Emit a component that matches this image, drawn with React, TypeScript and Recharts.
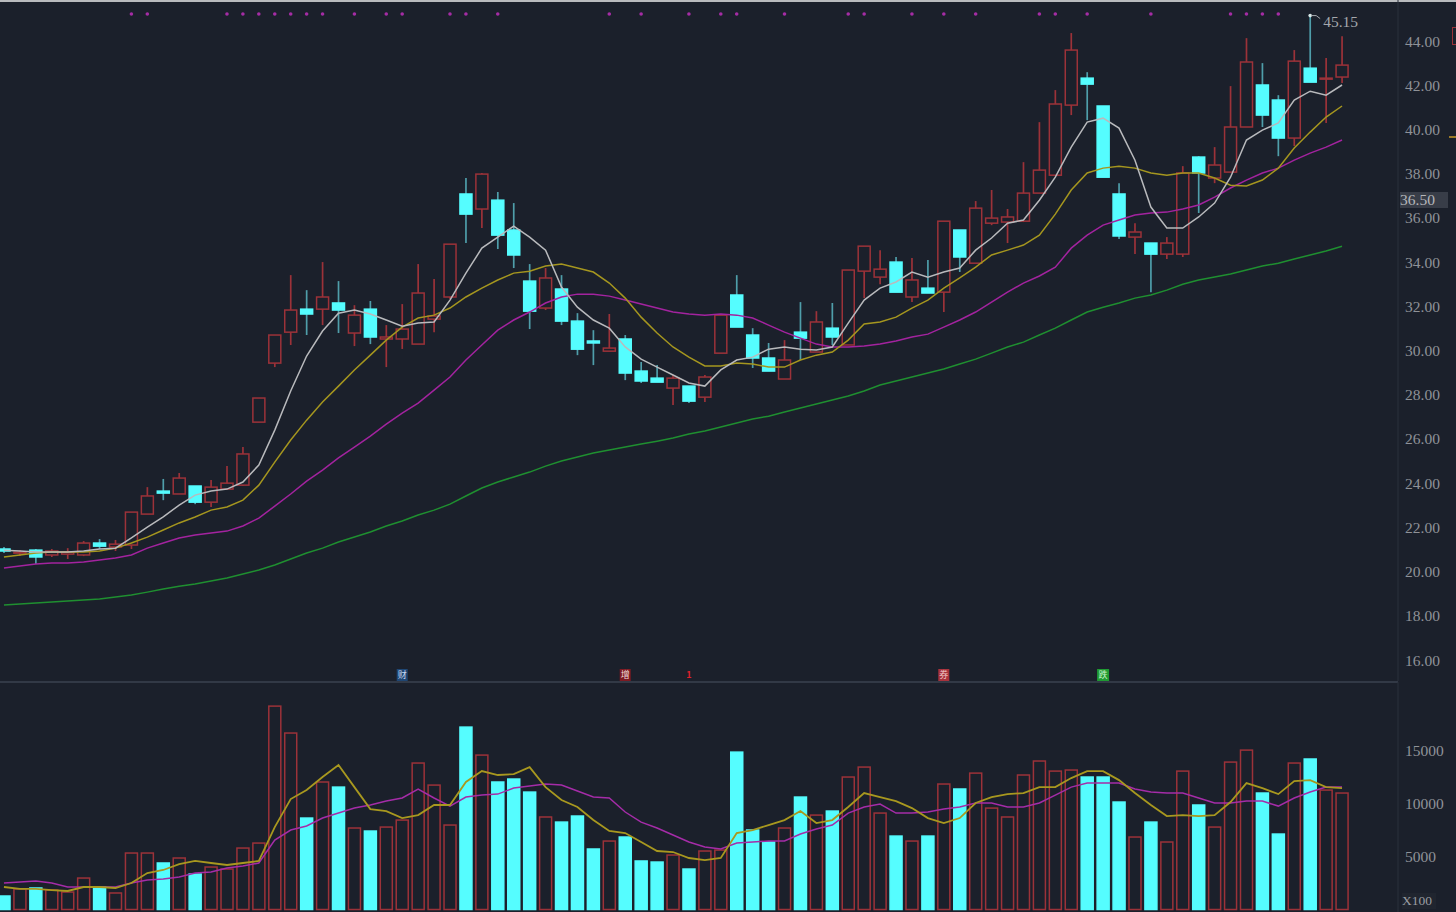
import React from "react";
import { ComposedChart, Bar, Line, XAxis, YAxis, ReferenceDot } from "recharts";

const highs = [21.11,20.97,21.02,21.02,21.06,21.38,21.47,21.43,22.69,23.82,24.19,24.46,23.87,24.14,24.77,25.63,27.85,30.70,33.41,32.73,34.00,33.14,32.05,32.24,31.15,32.10,33.91,33.23,34.81,37.80,38.03,37.17,36.67,33.91,33.73,33.41,31.69,30.92,31.65,30.70,29.48,29.34,28.89,28.39,28.89,31.60,33.41,31.01,30.34,30.47,32.19,31.78,32.15,33.64,34.72,34.54,34.23,34.18,34.09,35.85,35.45,36.76,37.26,36.40,38.52,40.33,41.78,44.36,42.59,41.06,37.57,35.76,34.86,35.13,38.34,38.79,39.20,41.96,44.13,43.00,41.55,43.59,45.15,43.23,44.22];
const lows = [20.84,20.70,20.34,20.66,20.57,20.70,21.02,20.93,21.02,22.60,23.23,23.51,23.05,22.92,23.73,23.87,26.76,29.25,30.25,30.70,31.15,30.79,30.20,30.29,29.25,30.07,30.29,30.83,32.33,34.86,35.54,34.59,33.73,30.97,31.83,31.15,29.79,29.34,29.97,28.66,28.53,28.57,27.53,27.62,27.67,29.88,31.06,29.21,29.07,28.71,29.57,29.93,30.25,30.25,32.37,33.00,32.64,32.19,32.60,31.74,33.55,33.95,35.67,34.86,35.81,37.12,37.93,40.65,40.42,37.84,35.04,34.36,32.64,34.14,34.23,36.22,37.57,38.07,40.11,40.11,38.79,39.25,42.14,40.29,42.10];
const opens = [21.02,20.84,20.97,20.75,20.79,20.75,21.29,21.11,21.20,22.60,23.64,23.51,23.87,23.14,23.73,23.91,26.76,29.43,30.83,31.87,31.87,32.15,30.79,31.87,30.52,30.52,30.29,31.42,32.42,37.08,36.40,36.80,35.45,33.14,31.92,32.78,31.33,30.43,29.97,30.52,29.07,28.75,28.30,28.39,27.89,29.88,32.51,30.70,29.66,28.71,30.83,29.93,31.01,30.25,33.59,33.32,34.00,32.42,32.82,32.64,35.45,33.95,35.76,35.81,35.85,37.12,37.93,41.10,42.32,41.06,37.08,35.13,34.86,34.36,34.36,38.75,37.80,38.07,40.11,42.01,41.33,39.61,42.77,42.28,42.37];
const closes = [20.93,20.88,20.66,20.93,20.88,21.29,21.15,21.24,22.69,23.42,23.55,24.23,23.14,23.82,24.00,25.32,27.85,30.70,31.83,31.65,32.42,31.83,31.60,30.61,30.61,30.97,32.60,31.56,34.81,36.17,37.98,35.22,34.32,31.78,33.28,31.33,30.06,30.34,30.11,28.98,28.62,28.57,28.75,27.71,28.80,31.60,31.06,29.66,29.07,29.57,30.56,31.29,30.61,33.64,34.72,33.68,32.64,33.19,32.60,35.85,34.23,36.44,35.99,36.04,37.12,38.16,41.15,43.59,42.05,37.84,35.18,35.36,34.36,34.86,38.03,38.03,38.39,40.11,43.05,40.65,39.61,43.09,42.14,42.32,42.91];

const ma5 = [20.97,20.93,20.88,20.88,20.88,20.93,21.02,21.06,21.52,22.01,22.47,23.01,23.46,23.64,23.73,24.05,24.82,26.40,28.17,29.75,30.88,31.69,31.83,31.65,31.38,31.10,31.24,31.29,32.28,33.50,34.63,35.13,35.63,35.13,34.54,32.87,31.96,31.38,31.01,30.16,29.61,29.25,28.89,28.53,28.39,29.12,29.57,29.70,30.06,30.16,30.06,30.02,30.16,31.24,32.28,32.82,33.10,33.55,33.32,33.55,33.73,34.54,35.09,35.76,35.90,36.80,37.84,39.20,40.33,40.51,40.06,38.61,36.49,35.54,35.54,36.04,36.67,37.84,39.52,39.97,40.29,41.33,41.73,41.55,42.01];
const ma10 = [20.66,20.75,20.84,20.88,20.88,20.88,20.93,21.06,21.29,21.56,21.88,22.20,22.47,22.78,22.92,23.23,23.91,24.95,25.95,26.85,27.67,28.39,29.12,29.79,30.47,31.06,31.47,31.60,31.92,32.42,32.82,33.19,33.50,33.59,33.82,33.91,33.73,33.55,33.05,32.37,31.51,30.79,30.16,29.70,29.30,29.30,29.43,29.39,29.25,29.25,29.57,29.79,29.93,30.47,31.20,31.29,31.51,31.92,32.28,32.82,33.28,33.77,34.32,34.54,34.77,35.22,36.17,37.26,38.03,38.25,38.34,38.25,38.03,37.93,38.03,38.03,37.80,37.48,37.44,37.71,38.25,39.16,39.88,40.56,41.06];
const ma20 = [20.16,20.25,20.34,20.39,20.39,20.43,20.52,20.61,20.75,21.06,21.29,21.52,21.65,21.74,21.83,22.06,22.42,22.96,23.51,24.09,24.59,25.14,25.63,26.13,26.67,27.17,27.62,28.21,28.80,29.57,30.25,30.92,31.38,31.74,32.15,32.42,32.55,32.55,32.46,32.28,32.10,31.92,31.74,31.65,31.60,31.65,31.60,31.47,31.15,30.83,30.56,30.29,30.16,30.16,30.20,30.29,30.43,30.61,30.74,31.06,31.38,31.74,32.19,32.64,33.05,33.37,33.77,34.63,35.22,35.67,35.90,36.13,36.22,36.26,36.40,36.58,36.94,37.35,37.71,38.03,38.25,38.61,38.93,39.20,39.52];
const ma60 = [18.49,18.53,18.58,18.62,18.67,18.71,18.76,18.85,18.94,19.07,19.21,19.34,19.44,19.57,19.71,19.89,20.07,20.30,20.57,20.84,21.06,21.34,21.56,21.79,22.06,22.29,22.56,22.78,23.05,23.42,23.78,24.05,24.28,24.50,24.77,25.00,25.18,25.36,25.50,25.63,25.77,25.90,26.04,26.22,26.36,26.54,26.72,26.90,27.03,27.22,27.40,27.58,27.76,27.94,28.17,28.44,28.62,28.80,28.98,29.16,29.39,29.61,29.88,30.16,30.38,30.70,31.01,31.38,31.74,31.96,32.15,32.37,32.51,32.73,33.00,33.19,33.32,33.46,33.64,33.82,33.95,34.14,34.32,34.50,34.72];

const volumes = [1226,1886,1980,1790,1600,2920,2075,1510,5280,5280,4340,4810,3300,3960,3770,5750,6220,19140,16600,8580,11980,11500,7640,7355,7730,8390,13770,11690,7920,17160,14520,11980,12260,11030,8680,8200,8770,5660,6410,6790,4530,4430,5090,3770,5470,5560,14800,7450,6320,7640,10560,8860,9240,12450,13390,9050,6880,6410,6880,11790,11320,12820,9520,8680,12640,13960,13010,13110,12450,12450,10090,6790,8200,6320,13010,9810,7730,13860,14990,10940,7070,13770,14150,11220,10940];
const volMa5 = [2075,1890,1890,1790,1700,2075,2075,1980,2450,3395,3680,4240,4530,4340,4150,4340,4530,7730,10370,11220,12450,13580,11500,9430,9240,8580,8860,9810,9810,11980,13010,12640,12730,13390,11500,10280,9620,8390,7360,7170,6320,5470,5375,4810,4620,4810,7170,7450,7920,8390,9240,8110,8390,9620,10940,10560,10180,9520,8580,8110,8580,10000,10560,10840,10940,11500,11500,12350,13010,13010,12160,10940,9810,8770,8860,8770,8860,10090,11880,11410,10840,12070,12160,11500,11410];
const volMa10 = [2450,2545,2640,2450,2075,2075,2075,2075,2450,2735,2830,3020,3395,3490,3865,4055,4340,6510,7450,7830,8580,9050,9520,9810,10180,10470,11320,10470,9710,10560,10750,10840,11410,11600,11790,11690,11130,10560,10470,9150,8200,7640,6980,6320,5850,5660,6220,6320,6410,6410,7070,7540,7920,9050,9620,9900,9050,9050,9150,9430,9620,10000,10000,9620,9620,10000,10750,11500,11880,11880,11880,11320,11030,10940,10940,10470,10000,10000,10180,10180,9710,10470,11030,11500,11500];

const signalDays = [8,9,14,15,16,17,18,19,20,22,24,25,28,29,31,38,40,43,45,46,49,53,54,57,59,61,65,66,68,72,77,78,79,80];
const signalLevel = 45.22;
const events = [
  { day: 25, text: "财", bg: "#1f4673", fg: "#c8d8ee", w: 11 },
  { day: 39, text: "增", bg: "#7d1a22", fg: "#f0d8d8", w: 11 },
  { day: 43, text: "1", bg: "#1b202b", fg: "#e0202c", w: 5 },
  { day: 59, text: "券", bg: "#a8323c", fg: "#f2c8c8", w: 11 },
  { day: 69, text: "跌", bg: "#1f9a32", fg: "#c8f2c8", w: 12 },
];
const priceTicks = [16,18,20,22,24,26,28,30,32,34,36,38,40,42,44];
const volumeTicks = [5000,10000,15000];

const table = opens.map((open, i) => ({
  i, open, close: closes[i], high: highs[i], low: lows[i],
  ma5: ma5[i], ma10: ma10[i], ma20: ma20[i], ma60: ma60[i],
  vol: volumes[i], volMa5: volMa5[i], volMa10: volMa10[i],
  signal: signalDays.includes(i) ? signalLevel : null,
}));

const BG = "#1b202b";
const RED = "#9c3239";
const CYAN = "#55fdff";
const WICK = "#4f9eaa";
const AXIS = "#2b313d";
const LABEL = "#8f9298";
const FONT = "'Liberation Serif', serif";

function Candle(props: any) {
  const { x, y, width, height, payload } = props;
  const cx = x + width / 2;
  const span = payload.high - payload.low || 1;
  const at = (v: number) => y + ((payload.high - v) / span) * height;
  const top = at(Math.max(payload.open, payload.close));
  const bot = at(Math.min(payload.open, payload.close));
  const down = payload.close < payload.open;
  return (
    <g>
      <line x1={cx} x2={cx} y1={y} y2={top} stroke={down ? WICK : RED} strokeWidth={1.7} />
      <line x1={cx} x2={cx} y1={bot} y2={y + height} stroke={down ? WICK : RED} strokeWidth={1.7} />
      <rect x={x} y={top} width={width} height={Math.max(bot - top, 1)}
        fill={down ? CYAN : "none"} stroke={down ? CYAN : RED} strokeWidth={1.5} />
    </g>
  );
}

function VolumeBar(props: any) {
  const { x, y, width, height, payload } = props;
  const down = payload.close < payload.open;
  return <rect x={x} y={y} width={width} height={height + 0.5}
    fill={down ? CYAN : "none"} stroke={down ? CYAN : RED} strokeWidth={1.5} />;
}

function SignalDot(props: any) {
  const { cx, cy, payload } = props;
  if (payload.signal == null) return <g key={props.key} />;
  return <circle key={props.key} cx={cx} cy={cy} r={1.8} fill="#a52ca5" />;
}

function EventTag(ev: typeof events[number]) {
  return (props: any) => (
    <g>
      <rect x={props.cx - ev.w / 2} y={669} width={ev.w} height={12} fill={ev.bg} />
      <text x={props.cx} y={678} textAnchor="middle" fontSize={9} fontWeight={ev.w === 5 ? 700 : 400} fill={ev.fg}
        fontFamily="'Noto Sans CJK SC'">{ev.text}</text>
    </g>
  );
}

function PeakNote(props: any) {
  const { cx, cy } = props;
  return (
    <g>
      <circle cx={cx} cy={cy} r={1.8} fill="#d8e8e8" />
      <polyline points={`${cx + 1},${cy} ${cx + 6},${cy} ${cx + 10},${cy + 3}`} fill="none" stroke="#a8abb0" strokeWidth={1} />
      <text x={cx + 13} y={cy + 11} fontSize={15.5} fill="#a5a8ad" fontFamily={FONT}>45.15</text>
    </g>
  );
}

export default function App() {
  return (
    <div style={{ position: "absolute", left: 0, top: 0, width: 1456, height: 912, background: BG, overflow: "hidden" }}>
      <div style={{ position: "absolute", left: 0, top: 0, width: 1456, height: 1.5, background: "#b9bbbe" }} />
      <div style={{ position: "absolute", left: 0, top: 0 }}>
        <ComposedChart width={1456} height={681} data={table} barSize={12} margin={{ top: 0, right: 0, bottom: 0, left: -4 }}>
          <XAxis dataKey="i" hide padding={{ left: 0, right: 48 }} />
          <YAxis orientation="right" width={58} domain={[15.05, 45.855]} ticks={priceTicks} allowDataOverflow
            tickFormatter={(v: number) => v.toFixed(2)} tick={{ fill: LABEL, fontSize: 15.5, fontFamily: FONT }}
            tickLine={false} tickMargin={1} axisLine={{ stroke: AXIS }} />
          <Bar dataKey={(d: any) => [d.low, d.high]} shape={<Candle />} activeBar={false} isAnimationActive={false} />
          <Line dataKey="ma60" stroke="#1f8f30" strokeWidth={1.5} dot={false} activeDot={false} isAnimationActive={false} />
          <Line dataKey="ma20" stroke="#a3239f" strokeWidth={1.5} dot={false} activeDot={false} isAnimationActive={false} />
          <Line dataKey="ma10" stroke="#a5961f" strokeWidth={1.5} dot={false} activeDot={false} isAnimationActive={false} />
          <Line dataKey="ma5" stroke="#b9babd" strokeWidth={1.5} dot={false} activeDot={false} isAnimationActive={false} />
          <Line dataKey="signal" stroke="none" dot={<SignalDot />} activeDot={false} isAnimationActive={false} />
          <ReferenceDot x={82} y={45.15} shape={PeakNote} />
          {events.map((ev) => (
            <ReferenceDot key={ev.day} x={ev.day} y={15.4} shape={EventTag(ev)} />
          ))}
        </ComposedChart>
      </div>
      <div style={{ position: "absolute", left: 0, top: 681, width: 1398, height: 1.5, background: "#323946" }} />
      <div style={{ position: "absolute", left: 0, top: 682 }}>
        <ComposedChart width={1456} height={230} data={table} barSize={12} margin={{ top: 0, right: 0, bottom: 0, left: -4 }}>
          <XAxis dataKey="i" hide padding={{ left: 0, right: 48 }} />
          <YAxis orientation="right" width={58} domain={[-283, 21415]} ticks={volumeTicks} allowDataOverflow
            tick={{ fill: LABEL, fontSize: 15.5, fontFamily: FONT }}
            tickLine={false} tickMargin={1} axisLine={{ stroke: AXIS }} />
          <Bar dataKey="vol" shape={<VolumeBar />} activeBar={false} isAnimationActive={false} />
          <Line dataKey="volMa10" stroke="#a52ca8" strokeWidth={1.5} dot={false} activeDot={false} isAnimationActive={false} />
          <Line dataKey="volMa5" stroke="#a8981f" strokeWidth={1.8} dot={false} activeDot={false} isAnimationActive={false} />
        </ComposedChart>
      </div>
      <div style={{ position: "absolute", left: 1400, top: 192, width: 48, height: 16, background: "#383d48", color: "#b4b6ba", font: `15.5px ${FONT}`, lineHeight: "16px" }}>36.50</div>
      <div style={{ position: "absolute", left: 1402, top: 893, width: 34, height: 16, color: "#9a9da2", font: `13.5px ${FONT}`, lineHeight: "16px", background: "#20252f" }}>X100</div>
      <div style={{ position: "absolute", left: 1452, top: 27, width: 6, height: 18, boxSizing: "border-box", border: `1.5px solid ${RED}` }} />
      <div style={{ position: "absolute", left: 1449, top: 136, width: 7, height: 1.5, background: "#9a7a28" }} />
    </div>
  );
}
